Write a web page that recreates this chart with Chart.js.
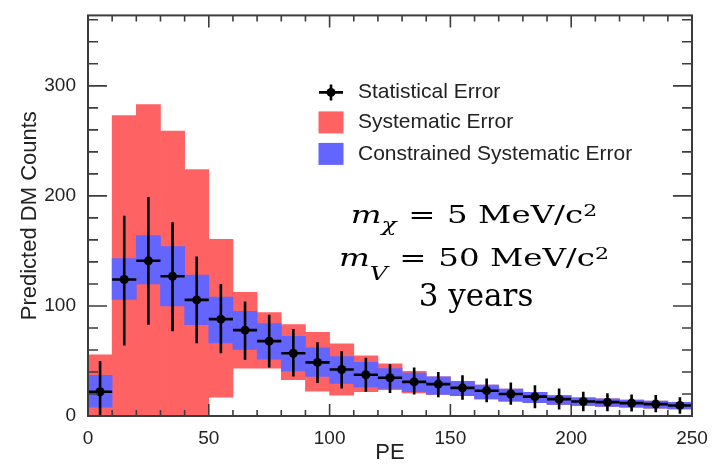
<!DOCTYPE html>
<html>
<head>
<meta charset="utf-8">
<script src="https://cdn.jsdelivr.net/npm/chart.js@4.4.1/dist/chart.umd.min.js"></script>
<style>
  html, body { margin: 0; padding: 0; background: #fff; }
  #c { display: block; }
</style>
</head>
<body>
<canvas id="c" width="716" height="466"></canvas>
<script>
// PE bins, 10 wide, from 0 to 250
const binCenters = [5, 15, 25, 35, 45, 55, 65, 75, 85, 95, 105, 115, 125,
                    135, 145, 155, 165, 175, 185, 195, 205, 215, 225, 235, 245];
const binWidth = 10;

// predicted counts with statistical error range
const counts   = [22, 124, 141, 127, 105.5, 88, 78, 68, 57, 48.7, 42.2, 37.5, 34.8,
                  31, 29, 25.6, 23, 20, 17.6, 15.3, 13.2, 12.6, 11.7, 10.8, 9.6];
const statLow  = [0, 64, 83, 77, 66, 57, 51, 44, 36, 30, 25, 22, 21,
                  19.6, 17, 14.7, 12.5, 10.2, 7, 5.8, 4.3, 4.3, 4, 3.4, 2];
const statHigh = [50, 182, 199, 176, 145, 120, 104, 92, 79, 67, 59, 53, 47,
                  44, 40, 37, 34, 30.4, 28, 25, 22, 20.6, 19.6, 19, 17];

// systematic error band
const sysLow  = [0, 0, 0, 0, 0, 17, 43.4, 43.4, 33, 22.5, 19, 22, 24,
                 21, 19.5, 18.5, 15.5, 13.5, 12, 10.5, 9.5, 8.7, 8, 7.2, 6.5];
const sysHigh = [55.5, 273, 283, 259, 224, 160.5, 112.4, 94, 83, 76, 65.6, 54.7, 47.3,
                 40.5, 35.5, 31.5, 28, 24.5, 21.5, 18.5, 16.5, 15.5, 14.5, 13.5, 12.5];

// constrained systematic error band
const conLow  = [8, 106, 120, 100, 83, 66.5, 60.6, 51.7, 41, 36, 29.5, 26.5, 25,
                 22, 19.5, 18.5, 15.5, 13.5, 12, 10.5, 9.5, 8.7, 8, 7.2, 6.5];
const conHigh = [37, 143, 164, 154, 128, 108, 95, 84, 72.4, 62, 54, 48.7, 43,
                 39, 35.5, 31.5, 28, 24.5, 21.5, 18.5, 16.5, 15.5, 14.5, 13.5, 12.5];

const xTicks = [0, 50, 100, 150, 200, 250];
const yTicks = [0, 100, 200, 300];

const sysColor = '#ff6262';
const conColor = '#6464ff';
const inkColor = '#222';
const sans = '"Liberation Sans", Arial, sans-serif';
const serif = '"DejaVu Serif", serif';

// vertical stat error bars plus the horizontal bin-width bar, under the points
const errorBars = {
    id: 'errorBars',
    beforeDatasetDraw(chart, args) {
        if (args.index !== 2) return;
        const { ctx, scales: { x, y } } = chart;
        ctx.save();
        ctx.strokeStyle = '#000';
        ctx.lineWidth = 2.6;
        binCenters.forEach((c, i) => {
            const px = x.getPixelForValue(c);
            const py = y.getPixelForValue(counts[i]);
            ctx.beginPath();
            ctx.moveTo(px, y.getPixelForValue(statLow[i]));
            ctx.lineTo(px, y.getPixelForValue(statHigh[i]));
            ctx.moveTo(x.getPixelForValue(c - binWidth / 2), py);
            ctx.lineTo(x.getPixelForValue(c + binWidth / 2), py);
            ctx.stroke();
        });
        ctx.restore();
    }
};

// box frame with inward ticks on all four sides
const frameTicks = {
    id: 'frameTicks',
    afterDatasetsDraw(chart) {
        const { ctx, chartArea: a, scales: { x, y } } = chart;
        ctx.save();
        ctx.strokeStyle = '#3c3c3c';
        ctx.lineWidth = 1.6;
        ctx.beginPath();
        for (let v = 0; v <= x.max; v += 10) {
            const px = x.getPixelForValue(v);
            const len = v % 50 === 0 ? 12 : 6;
            ctx.moveTo(px, a.bottom); ctx.lineTo(px, a.bottom - len);
            ctx.moveTo(px, a.top); ctx.lineTo(px, a.top + len);
        }
        for (let v = 0; v <= y.max; v += 20) {
            const py = y.getPixelForValue(v);
            const len = v % 100 === 0 ? 19 : 10;
            ctx.moveTo(a.left, py); ctx.lineTo(a.left + len, py);
            ctx.moveTo(a.right, py); ctx.lineTo(a.right - len, py);
        }
        ctx.stroke();
        ctx.lineWidth = 2;
        ctx.strokeRect(a.left, a.top, a.right - a.left, a.bottom - a.top);
        ctx.restore();
    }
};

const legendBox = {
    id: 'legendBox',
    afterDraw(chart) {
        const { ctx, chartArea: a } = chart;
        const mx = a.left + 243;
        const tx = a.left + 270;
        const rows = [a.top + 77, a.top + 107, a.top + 138.5];
        ctx.save();
        // statistical error marker
        ctx.strokeStyle = '#000';
        ctx.fillStyle = '#000';
        ctx.lineWidth = 2.6;
        ctx.beginPath();
        ctx.moveTo(mx - 12, rows[0]); ctx.lineTo(mx + 12, rows[0]);
        ctx.moveTo(mx, rows[0] - 8); ctx.lineTo(mx, rows[0] + 8);
        ctx.stroke();
        ctx.beginPath();
        ctx.arc(mx, rows[0], 4.5, 0, Math.PI * 2);
        ctx.fill();
        // band swatches
        ctx.fillStyle = sysColor;
        ctx.fillRect(mx - 12.5, rows[1] - 11, 25, 22);
        ctx.fillStyle = conColor;
        ctx.fillRect(mx - 12.5, rows[2] - 11, 25, 22);

        ctx.fillStyle = inkColor;
        ctx.font = '21px ' + sans;
        ctx.textBaseline = 'middle';
        ctx.fillText('Statistical Error', tx, rows[0]);
        ctx.fillText('Systematic Error', tx, rows[1]);
        ctx.fillText('Constrained Systematic Error', tx, rows[2]);
        ctx.restore();
    }
};

// mass / exposure label, drawn run by run for the sub- and superscripts
function drawRuns(ctx, runs, cx, baseline, stretch) {
    let w = 0;
    runs.forEach(r => {
        ctx.font = r.font;
        r.w = ctx.measureText(r.text).width + (r.gap || 0);
        w += r.w;
    });
    ctx.save();
    ctx.translate(cx, baseline);
    ctx.scale(stretch, 1);
    let x = -w / 2;
    runs.forEach(r => {
        ctx.font = r.font;
        ctx.fillText(r.text, x + (r.gap || 0) / 2, r.dy || 0);
        x += r.w;
    });
    ctx.restore();
}

const massLabel = {
    id: 'massLabel',
    afterDraw(chart) {
        const { ctx } = chart;
        const big = '25px ' + serif;
        const bigIt = 'italic 25px ' + serif;
        const small = '17px ' + serif;
        const smallIt = 'italic 19px ' + serif;
        ctx.save();
        ctx.fillStyle = '#000';
        ctx.textBaseline = 'alphabetic';
        drawRuns(ctx, [
            { text: 'm', font: bigIt },
            { text: 'χ', font: smallIt, dy: 8 },
            { text: '=', font: big, gap: 18 },
            { text: '5 MeV/c', font: big },
            { text: '2', font: small, dy: -7 }
        ], 474, 223, 1.3);
        drawRuns(ctx, [
            { text: 'm', font: bigIt },
            { text: 'V', font: smallIt, dy: 14 },
            { text: '=', font: big, gap: 18 },
            { text: '50 MeV/c', font: big },
            { text: '2', font: small, dy: -7 }
        ], 474, 266, 1.3);
        drawRuns(ctx, [{ text: '3 years', font: '31px ' + serif }], 476, 306, 1.0);
        ctx.restore();
    }
};

new Chart(document.getElementById('c'), {
    type: 'bar',
    data: {
        datasets: [
            {
                label: 'Systematic Error',
                data: binCenters.map((c, i) => ({ x: c, y: [sysLow[i], sysHigh[i]] })),
                backgroundColor: sysColor,
                borderWidth: 0,
                grouped: false,
                barPercentage: 1,
                categoryPercentage: 1,
                order: 3
            },
            {
                label: 'Constrained Systematic Error',
                data: binCenters.map((c, i) => ({ x: c, y: [conLow[i], conHigh[i]] })),
                backgroundColor: conColor,
                borderWidth: 0,
                grouped: false,
                barPercentage: 1,
                categoryPercentage: 1,
                order: 2
            },
            {
                type: 'scatter',
                label: 'Statistical Error',
                data: binCenters.map((c, i) => ({ x: c, y: counts[i] })),
                backgroundColor: '#000',
                borderWidth: 0,
                pointRadius: 4.5,
                order: 1
            }
        ]
    },
    options: {
        responsive: false,
        animation: false,
        devicePixelRatio: 1,
        layout: { padding: { left: 0, right: 24, top: 7, bottom: 0 } },
        plugins: {
            legend: { display: false },
            tooltip: { enabled: false }
        },
        scales: {
            x: {
                type: 'linear',
                offset: false,
                min: 0,
                max: 250,
                grid: { display: false },
                border: { display: false },
                afterBuildTicks: s => { s.ticks = xTicks.map(v => ({ value: v })); },
                afterFit: s => { s.height = 50; },
                ticks: {
                    font: { family: sans, size: 19 },
                    color: inkColor,
                    padding: 3,
                    maxRotation: 0,
                    autoSkip: false
                },
                title: {
                    display: true,
                    text: 'PE',
                    font: { family: sans, size: 22 },
                    color: inkColor,
                    padding: { top: 0, bottom: 0 }
                }
            },
            y: {
                type: 'linear',
                min: 0,
                max: 364,
                grid: { display: false },
                border: { display: false },
                afterBuildTicks: s => { s.ticks = yTicks.map(v => ({ value: v })); },
                afterFit: s => { s.width = 88; },
                ticks: {
                    font: { family: sans, size: 19 },
                    color: inkColor,
                    padding: 4
                },
                title: {
                    display: true,
                    text: 'Predicted DM Counts',
                    font: { family: sans, size: 22 },
                    color: inkColor,
                    padding: { top: 17, bottom: 0 }
                }
            }
        }
    },
    plugins: [errorBars, frameTicks, legendBox, massLabel]
});
</script>
</body>
</html>
